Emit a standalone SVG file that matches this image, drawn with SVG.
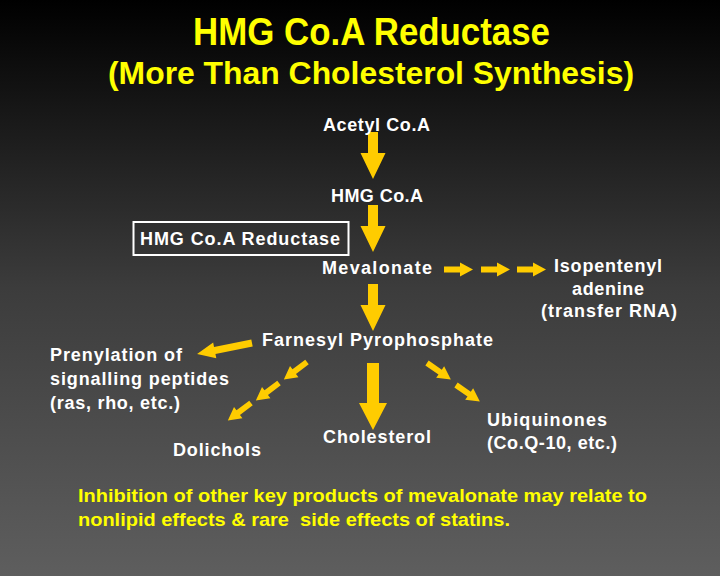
<svg xmlns="http://www.w3.org/2000/svg" xmlns:xlink="http://www.w3.org/1999/xlink" width="720" height="576" viewBox="0 0 720 576">
<defs>
<linearGradient id="bg" x1="0" y1="0" x2="0" y2="1">
<stop offset="0" stop-color="#000000"/>
<stop offset="0.5" stop-color="#3c3c3c"/>
<stop offset="1" stop-color="#5e5e5e"/>
</linearGradient>
<polygon id="small" points="0,-2.9 16,-2.9 16,-7 29,0 16,7 16,2.9 0,2.9"/>
<polygon id="down" points="-5,0 5,0 5,21 12.5,21 0,47 -12.5,21 -5,21"/>
</defs>
<style>
.t{font-family:"Liberation Sans",Arial,sans-serif;font-weight:bold;fill:#ffffff;font-size:18px}
.y{font-family:"Liberation Sans",Arial,sans-serif;font-weight:bold;fill:#ffff00}
.a{fill:#ffcc00}
</style>
<rect x="0" y="0" width="720" height="576" fill="url(#bg)"/>
<g id="title">
<text class="y" x="193" y="45" font-size="38" textLength="357" lengthAdjust="spacingAndGlyphs">HMG Co.A Reductase</text>
<text class="y" x="108" y="84" font-size="31" textLength="526" lengthAdjust="spacingAndGlyphs">(More Than Cholesterol Synthesis)</text>
</g>
<g id="connectors" class="a">
<use xlink:href="#down" transform="translate(373,132)"/>
<use xlink:href="#down" transform="translate(373,205)"/>
<use xlink:href="#down" transform="translate(373,284)"/>
<polygon points="367,363 379,363 379,403 387,403 373,430 359,403 367,403"/>
<use xlink:href="#small" transform="translate(444,269.5)"/>
<use xlink:href="#small" transform="translate(481,269.5)"/>
<use xlink:href="#small" transform="translate(517,269.5)"/>
<polygon points="0,-3.6 38,-3.6 38,-8 56,0 38,8 38,3.6 0,3.6" transform="translate(252,343) rotate(168.7)"/>
<use xlink:href="#small" transform="translate(307,362) rotate(143)"/>
<use xlink:href="#small" transform="translate(279,383) rotate(143)"/>
<use xlink:href="#small" transform="translate(251,403) rotate(143)"/>
<use xlink:href="#small" transform="translate(427,363) rotate(34.7)"/>
<use xlink:href="#small" transform="translate(456,385) rotate(34.7)"/>
</g>
<g id="acetyl"><text class="t" x="323" y="131" textLength="107" lengthAdjust="spacing">Acetyl Co.A</text></g>
<g id="hmgcoa"><text class="t" x="331" y="202" textLength="92" lengthAdjust="spacing">HMG Co.A</text></g>
<g id="reductase">
<rect x="133.5" y="222" width="215" height="33" fill="none" stroke="#ffffff" stroke-width="2"/>
<text class="t" x="140" y="245" textLength="200" lengthAdjust="spacing">HMG Co.A Reductase</text>
</g>
<g id="mevalonate"><text class="t" x="322" y="274" textLength="110" lengthAdjust="spacing">Mevalonate</text></g>
<g id="isopentenyl">
<text class="t" x="554" y="272" textLength="108" lengthAdjust="spacing">Isopentenyl</text>
<text class="t" x="572" y="295" textLength="72" lengthAdjust="spacing">adenine</text>
<text class="t" x="541" y="317" textLength="136" lengthAdjust="spacing">(transfer RNA)</text>
</g>
<g id="farnesyl"><text class="t" x="262" y="346" textLength="231" lengthAdjust="spacing">Farnesyl Pyrophosphate</text></g>
<g id="prenylation">
<text class="t" x="50" y="361" textLength="132" lengthAdjust="spacing">Prenylation of</text>
<text class="t" x="50" y="385" textLength="179" lengthAdjust="spacing">signalling peptides</text>
<text class="t" x="50" y="409" textLength="130" lengthAdjust="spacing">(ras, rho, etc.)</text>
</g>
<g id="dolichols"><text class="t" x="173" y="456" textLength="88" lengthAdjust="spacing">Dolichols</text></g>
<g id="cholesterol"><text class="t" x="323" y="443" textLength="108" lengthAdjust="spacing">Cholesterol</text></g>
<g id="ubiquinones">
<text class="t" x="487" y="426" textLength="120" lengthAdjust="spacing">Ubiquinones</text>
<text class="t" x="487" y="449" textLength="130" lengthAdjust="spacing">(Co.Q-10, etc.)</text>
</g>
<g id="note">
<text class="y" x="78" y="502" font-size="19" textLength="569" lengthAdjust="spacingAndGlyphs">Inhibition of other key products of mevalonate may relate to</text>
<text class="y" x="78" y="526" font-size="19" textLength="432" lengthAdjust="spacingAndGlyphs" xml:space="preserve">nonlipid effects &amp; rare  side effects of statins.</text>
</g>
</svg>
